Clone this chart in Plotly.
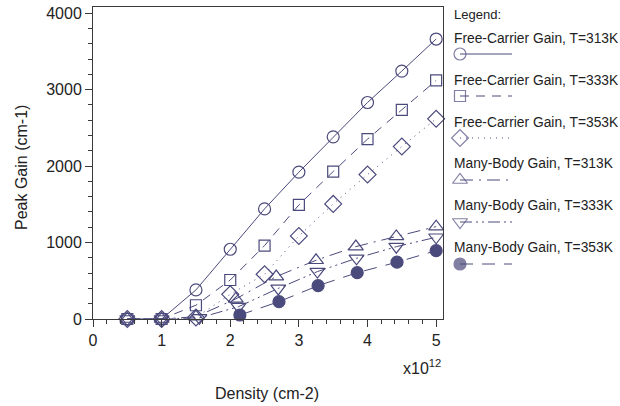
import plotly.graph_objects as go

# ---- data -------------------------------------------------------------
density_fc = [0.5, 1.0, 1.5, 2.0, 2.5, 3.0, 3.5, 4.0, 4.5, 5.0]
fc_gain_313 = [0, 0, 380, 912, 1440, 1920, 2382, 2831, 3242, 3661]
fc_gain_333 = [0, 0, 180, 510, 960, 1492, 1928, 2352, 2736, 3120]
fc_gain_353 = [0, 0, 20, 323, 585, 1086, 1505, 1889, 2255, 2618]

density_mb_313 = [0.5, 1.0, 1.5, 2.08, 2.67, 3.25, 3.83, 4.42, 5.0]
mb_gain_313 = [0, 0, 30, 262, 555, 768, 947, 1080, 1208]
density_mb_333 = [0.5, 1.0, 1.55, 2.12, 2.70, 3.27, 3.84, 4.42, 5.0]
mb_gain_333 = [0, 0, 15, 161, 400, 620, 794, 946, 1069]
density_mb_353 = [2.14, 2.71, 3.28, 3.85, 4.43, 5.0]
mb_gain_353 = [52, 227, 436, 606, 743, 894]

series_names = [
    "Free-Carrier Gain, T=313K",
    "Free-Carrier Gain, T=333K",
    "Free-Carrier Gain, T=353K",
    "Many-Body Gain, T=313K",
    "Many-Body Gain, T=333K",
    "Many-Body Gain, T=353K",
]

x_tick_vals = [0, 1, 2, 3, 4, 5]
y_tick_vals = [0, 1000, 2000, 3000, 4000]

# ---- styling ----------------------------------------------------------
W, H = 620, 406
INK = "#4b4a7c"
AXIS = "#3a3a3a"
TEXT = "#222222"
FONT = "Arial, Liberation Sans, sans-serif"

# plot area in pixels
PL, PR, PT, PB = 93, 443, 7, 319

styles = [
    dict(symbol="circle-open", size=12, dash="solid"),
    dict(symbol="square-open", size=11, dash="9px,7px"),
    dict(symbol="diamond-open", size=13, dash="1px,5px"),
    dict(symbol="triangle-up-open", size=13, dash="13px,6px,2px,6px"),
    dict(symbol="triangle-down-open", size=13, dash="12px,4px,2px,4px,2px,4px"),
    dict(symbol="circle", size=12, dash="13px,9px"),
]

xs = [density_fc, density_fc, density_fc, density_mb_313, density_mb_333, density_mb_353]
ys = [fc_gain_313, fc_gain_333, fc_gain_353, mb_gain_313, mb_gain_333, mb_gain_353]

fig = go.Figure()

for name, x, y, st in zip(series_names, xs, ys, styles):
    fig.add_trace(go.Scatter(
        x=x, y=y, name=name, mode="lines+markers",
        line=dict(color=INK, width=1, dash=st["dash"]),
        marker=dict(symbol=st["symbol"], size=st["size"], color=INK,
                    line=dict(color=INK, width=1.2)),
        showlegend=False, cliponaxis=False,
    ))

# ---- hand-drawn legend on a pixel-unit overlay axis -------------------
leg_text_x = 452
leg_text_y = [38, 80, 122, 163, 205, 247]
leg_sample_y = [54, 96, 138, 180, 222, 264]
sample_x = [460, 512]

for name, st, sy in zip(series_names, styles, leg_sample_y):
    fig.add_trace(go.Scatter(
        x=sample_x, y=[sy, sy], xaxis="x2", yaxis="y2", mode="lines+markers",
        line=dict(color=INK, width=1, dash=st["dash"]),
        marker=dict(symbol=st["symbol"], size=[st["size"], 0], color=INK,
                    line=dict(color=INK, width=1.2)),
        showlegend=False, hoverinfo="skip", cliponaxis=False,
    ))

annotations = [dict(x=leg_text_x, y=14, xref="x2", yref="y2", text="Legend:",
                    showarrow=False, xanchor="left", yanchor="middle",
                    font=dict(size=13, color=TEXT, family=FONT))]
for name, ty in zip(series_names, leg_text_y):
    annotations.append(dict(x=leg_text_x, y=ty, xref="x2", yref="y2", text=name,
                            showarrow=False, xanchor="left", yanchor="middle",
                            font=dict(size=13.8, color=TEXT, family=FONT)))

# axis titles and exponent
annotations += [
    dict(x=267, y=393, xref="x2", yref="y2", text="Density (cm-2)", showarrow=False,
         xanchor="center", yanchor="middle", font=dict(size=16, color=TEXT, family=FONT)),
    dict(x=21, y=168, xref="x2", yref="y2", text="Peak Gain (cm-1)", showarrow=False,
         textangle=-90, xanchor="center", yanchor="middle",
         font=dict(size=16, color=TEXT, family=FONT)),
    dict(x=443, y=367, xref="x2", yref="y2", text="x10<sup>12</sup>", showarrow=False,
         xanchor="right", yanchor="middle", font=dict(size=16, color=TEXT, family=FONT)),
]

fig.update_layout(
    width=W, height=H,
    margin=dict(l=0, r=0, t=0, b=0, pad=0, autoexpand=False),
    paper_bgcolor="white", plot_bgcolor="rgba(0,0,0,0)",
    showlegend=False,
    font=dict(family=FONT, size=16, color=TEXT),
    xaxis=dict(
        domain=[PL / W, PR / W], range=[0, 5.1], anchor="y", automargin=False,
        tickvals=x_tick_vals, ticks="outside", ticklen=7, tickwidth=1, tickcolor=AXIS,
        minor=dict(dtick=0.2, tick0=0, ticks="outside", ticklen=4, tickcolor=AXIS, showgrid=False),
        showline=True, linecolor=AXIS, linewidth=1, mirror=True,
        showgrid=False, zeroline=False, tickfont=dict(size=16, color=TEXT),
    ),
    yaxis=dict(
        domain=[(H - PB) / H, (H - PT) / H], range=[0, 4080], anchor="x", automargin=False,
        tickvals=y_tick_vals, ticks="outside", ticklen=7, tickwidth=1, tickcolor=AXIS,
        ticksuffix="\u00a0",
        minor=dict(dtick=200, tick0=0, ticks="outside", ticklen=4, tickcolor=AXIS, showgrid=False),
        showline=True, linecolor=AXIS, linewidth=1, mirror=True,
        showgrid=False, zeroline=False, tickfont=dict(size=16, color=TEXT),
    ),
    xaxis2=dict(domain=[0, 1], range=[0, W], anchor="y2", visible=False,
                fixedrange=True, automargin=False),
    yaxis2=dict(domain=[0, 1], range=[H, 0], anchor="x2", visible=False,
                fixedrange=True, automargin=False),
    annotations=annotations,
)

fig.write_html("out.html", config=dict(displayModeBar=False))
